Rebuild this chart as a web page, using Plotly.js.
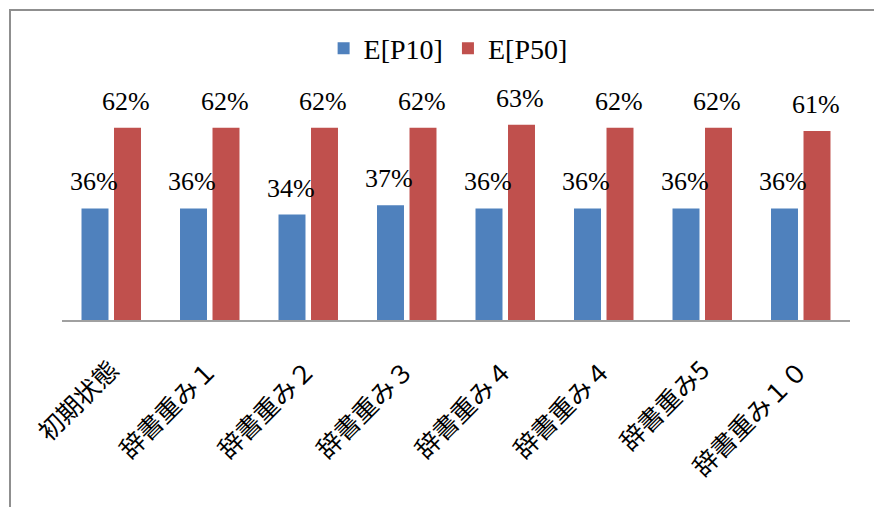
<!DOCTYPE html>
<html>
<head>
<meta charset="utf-8">
<script src="https://cdn.plot.ly/plotly-3.0.1.min.js"></script>
<style>
  html, body { margin: 0; padding: 0; background: #fff; }
  #chart { width: 874px; height: 507px; }
  #frame { position: absolute; left: 9px; top: 9px; width: 880px; height: 520px;
           border-left: 2px solid #8f8f8f; border-top: 2px solid #8f8f8f; pointer-events: none; }
</style>
</head>
<body>
<div id="chart"></div>
<div id="frame"></div>
<script>
const categories = ["初期状態", "辞書重み１", "辞書重み２", "辞書重み３", "辞書重み４", "辞書重み４", "辞書重み5", "辞書重み１０"];
const seriesNames = ["E[P10]", "E[P50]"];
const p10 = [0.36, 0.36, 0.34, 0.37, 0.36, 0.36, 0.36, 0.36];
const p50 = [0.62, 0.62, 0.62, 0.62, 0.63, 0.62, 0.62, 0.61];
const colors = ["#4f81bd", "#c0504d"];

const xs = categories.map((_, i) => i);
const serif = "'Liberation Serif', 'DejaVu Serif', 'Noto Sans CJK JP', serif";

const traces = [p10, p50].map((vals, k) => ({
  type: "bar",
  name: seriesNames[k],
  x: xs,
  y: vals,
  marker: { color: colors[k] },
  hoverinfo: "skip"
}));

// data labels above bars (grouped-bar offset of a quarter group)
const groupOffset = 0.165;
const annotations = [];
[p10, p50].forEach((vals, k) => {
  vals.forEach((v, i) => {
    annotations.push({
      x: i + (k === 0 ? -groupOffset : groupOffset) - 0.015,
      y: v,
      xref: "x", yref: "y",
      text: Math.round(v * 100) + "%",
      showarrow: false,
      yanchor: "bottom",
      yshift: 10,
      font: { family: serif, size: 26, color: "#000" }
    });
  });
});

const layout = {
  width: 874, height: 507,
  margin: { l: 62, r: 24, t: 72, b: 187 },
  paper_bgcolor: "#fff", plot_bgcolor: "#fff",
  barmode: "group",
  bargap: 0.34,
  bargroupgap: 0.17,
  showlegend: true,
  legend: {
    orientation: "h",
    x: 0.49, xanchor: "center",
    y: 1.095, yanchor: "middle",
    font: { family: serif, size: 28, color: "#000" },
    itemwidth: 30,
    traceorder: "normal"
  },
  xaxis: {
    type: "linear",
    range: [-0.5, 7.5],
    tickvals: xs,
    ticktext: categories,
    tickangle: -45,
    ticks: "",
    showgrid: false,
    zeroline: false,
    showline: true,
    linecolor: "#a0a0a0",
    linewidth: 1.5,
    ticklabelstandoff: 24,
    tickfont: { family: "'Noto Sans CJK JP', sans-serif", size: 25, color: "#000" }
  },
  yaxis: {
    range: [0, 0.8],
    visible: false,
    showgrid: false,
    zeroline: false
  },
  annotations: annotations
};

Plotly.newPlot("chart", traces, layout, { displayModeBar: false, staticPlot: true });
</script>
</body>
</html>
